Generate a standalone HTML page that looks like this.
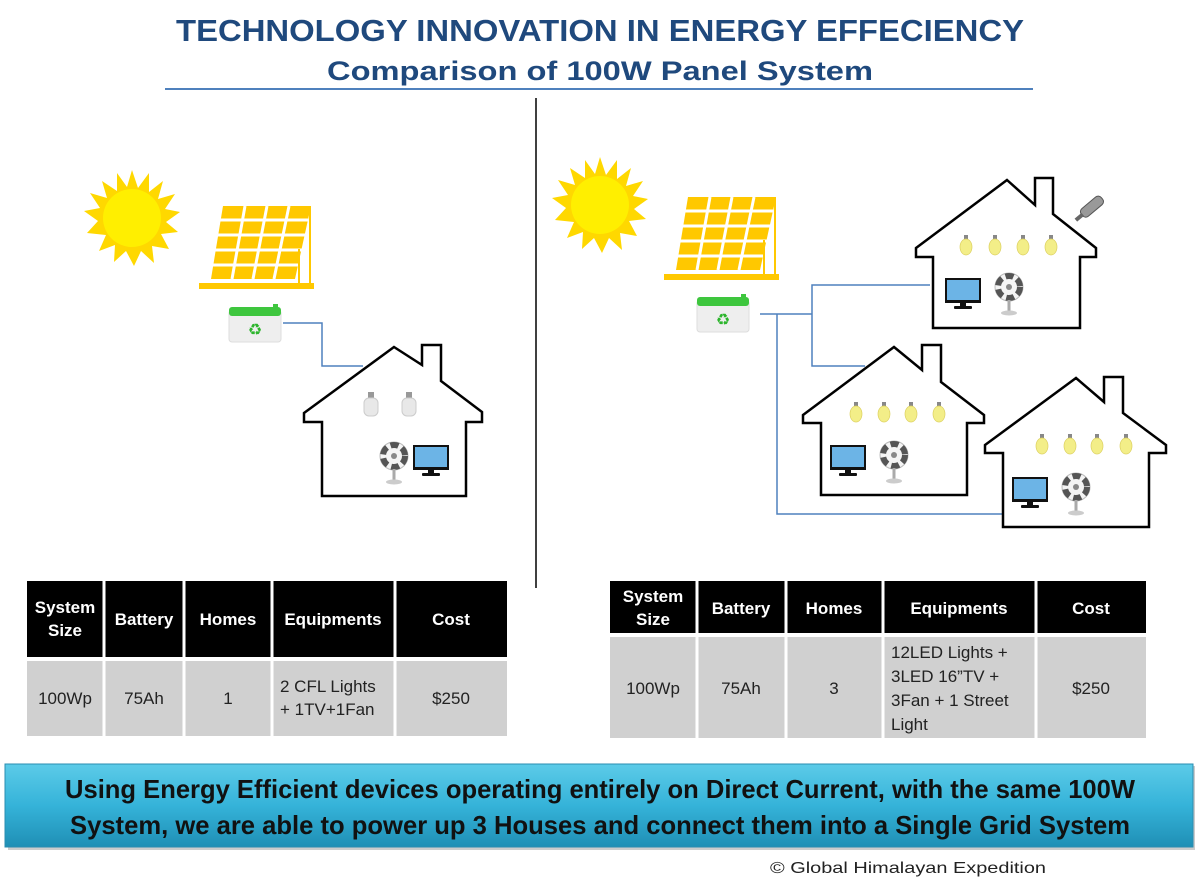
<!DOCTYPE html>
<html><head><meta charset="utf-8"><style>
html,body{margin:0;padding:0;background:#fff;width:1200px;height:886px;overflow:hidden}
svg{display:block}
text{font-family:"Liberation Sans",sans-serif}
</style></head><body>
<svg width="1200" height="886" viewBox="0 0 1200 886" xmlns="http://www.w3.org/2000/svg">
<defs>
 <linearGradient id="bn" x1="0" y1="0" x2="0" y2="1">
  <stop offset="0" stop-color="#5ccbe8"/><stop offset="0.5" stop-color="#35b3d9"/><stop offset="1" stop-color="#1f8fb5"/>
 </linearGradient>
 <g id="sun">
  <polygon fill="#ffd800" points="0,-48 6,-30 17,-45 17,-26 31,-37 26,-19 43,-24 33,-9 48,-6 34,4 46,14 29,16 37,31 20,28 22,45 9,33 2,48 -6,33 -18,44 -17,27 -33,33 -26,17 -45,15 -34,3 -48,-7 -32,-10 -42,-25 -25,-20 -30,-37 -15,-27 -15,-45 -5,-31"/>
  <circle r="29" fill="#ffef00"/>
 </g>
 <g id="panel">
  <g fill="#ffc800">
   <polygon points="12,0 100,0 84,73 0,73"/>
  </g>
  <g stroke="#fff" stroke-width="3">
   <line x1="34" y1="0" x2="21" y2="73"/><line x1="56" y1="0" x2="42" y2="73"/><line x1="78" y1="0" x2="63" y2="73"/>
   <line x1="9" y1="14" x2="97" y2="14"/><line x1="6" y1="29" x2="94" y2="29"/><line x1="3" y1="44" x2="91" y2="44"/><line x1="1" y1="59" x2="88" y2="59"/>
  </g>
  <g stroke="#ffc800" stroke-width="2"><line x1="99" y1="0" x2="99" y2="77"/><line x1="88" y1="43" x2="88" y2="77"/></g>
  <rect x="-12" y="77" width="115" height="6" fill="#ffc800"/>
 </g>
 <g id="bat">
  <rect x="0" y="6" width="52" height="32" rx="3" fill="#eee" stroke="#ddd"/>
  <rect x="0" y="3" width="52" height="9" rx="3" fill="#3ec63e"/>
  <rect x="44" y="0" width="5" height="5" fill="#3ec63e"/>
  <text x="26" y="31" font-size="16" fill="#2db52d" text-anchor="middle">♻</text>
 </g>
 <g id="bulb"><rect x="-2" y="-10" width="4" height="5" fill="#888"/><ellipse cx="0" cy="2" rx="6" ry="8" fill="#f3ee88" stroke="#dcd060" stroke-width="0.7"/></g>
 <g id="cfl"><rect x="-3" y="-12" width="6" height="6" fill="#999"/><rect x="-7" y="-6" width="14" height="18" rx="5" fill="#e8e8e8" stroke="#ccc"/></g>
 <g id="tv"><rect x="0" y="0" width="36" height="25" fill="#111"/><rect x="2" y="2" width="32" height="20" fill="#6cb4e6"/><rect x="15" y="25" width="6" height="3" fill="#111"/><rect x="9" y="28" width="18" height="3" rx="1" fill="#111"/></g>
 <g id="fan"><circle cx="0" cy="0" r="14" fill="#f4f4f4" stroke="#bbb"/><circle r="11" fill="none" stroke="#555" stroke-width="6" stroke-dasharray="8 4"/><circle r="3" fill="#888"/><rect x="-1.5" y="13" width="3" height="12" fill="#aaa"/><ellipse cx="0" cy="26" rx="8" ry="2.5" fill="#ccc"/></g>
</defs>

<text x="600" y="41" font-size="31" font-weight="bold" fill="#1f497d" text-anchor="middle" textLength="848" lengthAdjust="spacingAndGlyphs">TECHNOLOGY INNOVATION IN ENERGY EFFECIENCY</text>
<text x="600" y="80" font-size="27" font-weight="bold" fill="#1f497d" text-anchor="middle" textLength="546" lengthAdjust="spacingAndGlyphs">Comparison of 100W Panel System</text>
<line x1="165" y1="89" x2="1033" y2="89" stroke="#4f81bd" stroke-width="2"/>
<line x1="536" y1="98" x2="536" y2="588" stroke="#000" stroke-width="1.5"/>

<!-- left scene -->
<use href="#sun" x="132" y="218"/>
<use href="#panel" x="211" y="206"/>
<use href="#bat" x="229" y="304"/>
<polyline points="283,323 322,323 322,366 363,366" fill="none" stroke="#4f81bd" stroke-width="1.5"/>
<polygon points="394,347 422,365 422,345 441,345 441,381 482,412 482,422 466,422 466,496 322,496 322,422 304,422 304,413" fill="none" stroke="#000" stroke-width="2.5" stroke-linejoin="miter"/>
<use href="#cfl" x="371" y="404"/><use href="#cfl" x="409" y="404"/>
<use href="#fan" x="394" y="456"/>
<use href="#tv" x="413" y="445"/>

<!-- right scene -->
<use href="#sun" x="600" y="205"/>
<use href="#panel" x="676" y="197"/>
<use href="#bat" x="697" y="294"/>
<polyline points="760,314 812,314" stroke="#4f81bd" stroke-width="1.5" fill="none"/>
<polyline points="930,285 812,285 812,366 865,366" stroke="#4f81bd" stroke-width="1.5" fill="none"/>
<polyline points="777,314 777,514 1003,514" stroke="#4f81bd" stroke-width="1.5" fill="none"/>

<polygon points="1007,180 1035,205 1035,178 1053,178 1053,214 1096,248 1096,257 1080,257 1080,328 933,328 933,257 916,257 916,248" fill="#fff" stroke="#000" stroke-width="2.5"/>
<g transform="translate(1082,215) rotate(-40)"><rect x="0" y="-5" width="26" height="10" rx="4" fill="#999" stroke="#555"/><rect x="-8" y="-2" width="9" height="4" fill="#666"/></g>
<use href="#bulb" x="966" y="245"/><use href="#bulb" x="995" y="245"/><use href="#bulb" x="1023" y="245"/><use href="#bulb" x="1051" y="245"/>
<use href="#tv" x="945" y="278"/><use href="#fan" x="1009" y="287"/>

<polygon points="894,347 922,370 922,345 941,345 941,382 984,415 984,423 967,423 967,495 821,495 821,423 803,423 803,415" fill="#fff" stroke="#000" stroke-width="2.5"/>
<use href="#bulb" x="856" y="412"/><use href="#bulb" x="884" y="412"/><use href="#bulb" x="911" y="412"/><use href="#bulb" x="939" y="412"/>
<use href="#tv" x="830" y="445"/><use href="#fan" x="894" y="455"/>

<polygon points="1076,378 1104,402 1104,377 1123,377 1123,413 1166,445 1166,453 1149,453 1149,527 1003,527 1003,453 985,453 985,445" fill="#fff" stroke="#000" stroke-width="2.5"/>
<use href="#bulb" x="1042" y="444"/><use href="#bulb" x="1070" y="444"/><use href="#bulb" x="1097" y="444"/><use href="#bulb" x="1126" y="444"/>
<use href="#tv" x="1012" y="477"/><use href="#fan" x="1076" y="487"/>

<!-- left table -->
<g font-size="17">
<rect x="27" y="581" width="480" height="76" fill="#000"/>
<rect x="27" y="661" width="480" height="75" fill="#d0d0d0"/>
<g stroke="#fff" stroke-width="3"><line x1="104" y1="581" x2="104" y2="736"/><line x1="184" y1="581" x2="184" y2="736"/><line x1="272" y1="581" x2="272" y2="736"/><line x1="395" y1="581" x2="395" y2="736"/></g>
<g fill="#fff" font-weight="bold" text-anchor="middle">
<text x="65" y="613">System</text><text x="65" y="636">Size</text>
<text x="144" y="625">Battery</text><text x="228" y="625">Homes</text><text x="333" y="625">Equipments</text><text x="451" y="625">Cost</text></g>
<g fill="#222" text-anchor="middle"><text x="65" y="704">100Wp</text><text x="144" y="704">75Ah</text><text x="228" y="704">1</text><text x="451" y="704">$250</text></g>
<text x="280" y="692" fill="#222">2 CFL Lights</text><text x="280" y="715" fill="#222">+ 1TV+1Fan</text>

<!-- right table -->
<rect x="610" y="581" width="536" height="52" fill="#000"/>
<rect x="610" y="637" width="536" height="101" fill="#d0d0d0"/>
<g stroke="#fff" stroke-width="3"><line x1="697" y1="581" x2="697" y2="738"/><line x1="786" y1="581" x2="786" y2="738"/><line x1="883" y1="581" x2="883" y2="738"/><line x1="1036" y1="581" x2="1036" y2="738"/></g>
<g fill="#fff" font-weight="bold" text-anchor="middle">
<text x="653" y="602">System</text><text x="653" y="625">Size</text>
<text x="741" y="614">Battery</text><text x="834" y="614">Homes</text><text x="959" y="614">Equipments</text><text x="1091" y="614">Cost</text></g>
<g fill="#222" text-anchor="middle"><text x="653" y="694">100Wp</text><text x="741" y="694">75Ah</text><text x="834" y="694">3</text><text x="1091" y="694">$250</text></g>
<g fill="#222"><text x="891" y="658">12LED Lights +</text><text x="891" y="682">3LED 16”TV +</text><text x="891" y="706">3Fan + 1 Street</text><text x="891" y="730">Light</text></g>
</g>

<!-- banner -->
<rect x="8" y="766" width="1187" height="84" fill="#9a9a9a" opacity="0.5"/>
<rect x="5" y="764" width="1188" height="83" fill="url(#bn)" stroke="#2a8db0"/>
<g font-size="26" font-weight="bold" fill="#111" text-anchor="middle">
<text x="600" y="798" textLength="1070" lengthAdjust="spacingAndGlyphs">Using Energy Efficient devices operating entirely on Direct Current, with the same 100W</text>
<text x="600" y="834" textLength="1060" lengthAdjust="spacingAndGlyphs">System, we are able to power up 3 Houses and connect them into a Single Grid System</text>
</g>
<text x="770" y="873" font-size="16" fill="#222" textLength="276" lengthAdjust="spacingAndGlyphs">© Global Himalayan Expedition</text>
</svg>
</body></html>
